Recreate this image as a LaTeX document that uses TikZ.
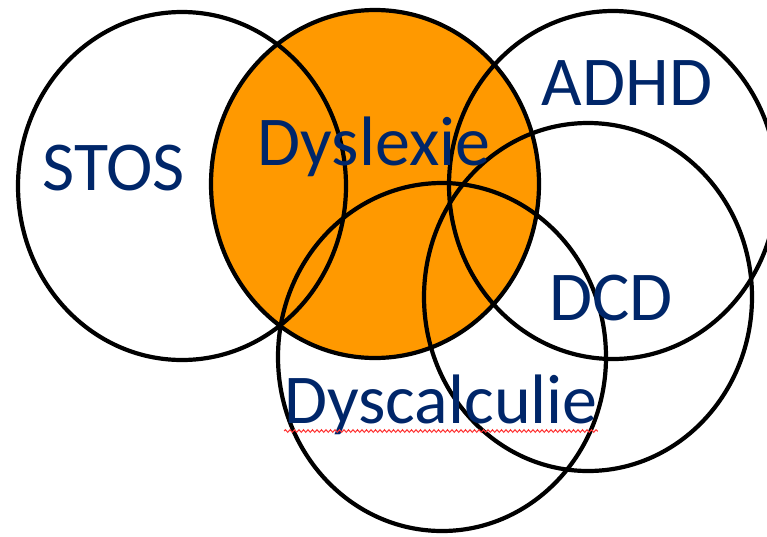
\documentclass[tikz,border=0pt]{standalone}
\usepackage{fontspec}
\setmainfont{Carlito}
\usepackage{tikz}
\usetikzlibrary{shapes.geometric,decorations.pathmorphing}
\definecolor{dysorange}{RGB}{255,153,0}
\definecolor{setblue}{RGB}{0,38,105}

\begin{document}
\begin{tikzpicture}[x=1pt, y=-1pt,
    blob/.style={ellipse, draw=black, line width=4.2pt, inner sep=0pt,
                 minimum width=328pt, minimum height=348pt},
    setname/.style={text=setblue, inner sep=0pt, anchor=base,
                    font=\fontsize{70}{82}\selectfont},
    spellmark/.style={draw=red!80, line width=1pt, decorate,
                      decoration={snake, amplitude=1.3pt, segment length=4.5pt}},
  ]
  \useasboundingbox (0,0) rectangle (767,536);
  %% Orange set first, the other outlines go on top
  \node[blob, fill=dysorange] (dys) at (375,184) {};
  \node[blob] (stos)  at (182,186) {};
  \node[blob] (adhd)  at (613,185) {};
  \node[blob] (dcd)   at (588,297) {};
  \node[blob] (calc)  at (442,357) {};
  %% Set names
  \node[setname] (tstos)  at (114,190) {STOS};
  \node[setname] (tdys)   at (374,165) {Dyslexie};
  \node[setname] (tadhd)  at (627,105) {ADHD};
  \node[setname] (tdcd)   at (611,320) {DCD};
  \node[setname] (tcalc)  at (441,423) {Dyscalculie};
  %% Spell check squiggle
  \draw[spellmark] ([yshift=-8pt]tcalc.base west) -- ([yshift=-8pt]tcalc.base east);
\end{tikzpicture}
\end{document}
